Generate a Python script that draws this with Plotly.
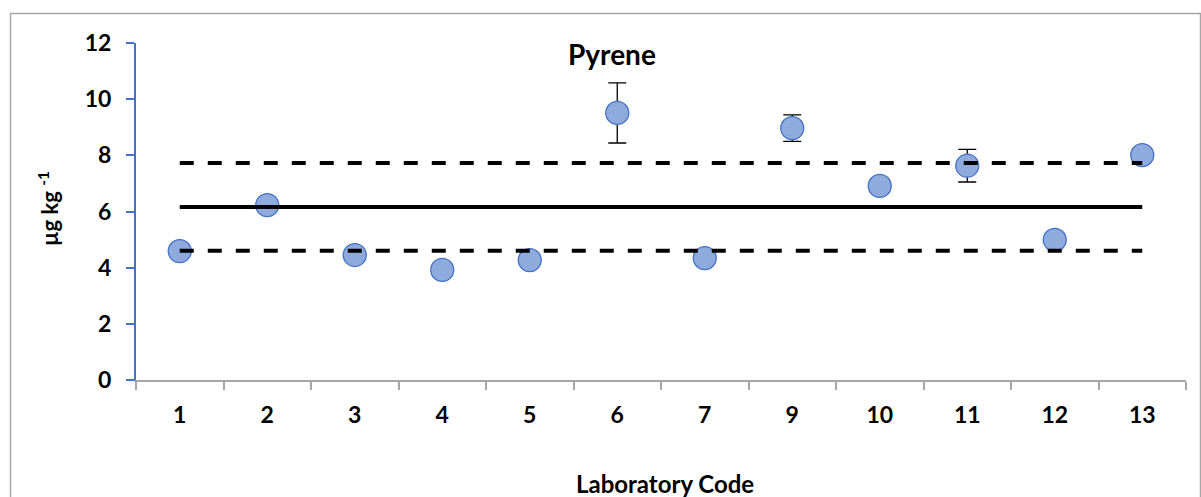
import plotly.graph_objects as go

lab_codes = ["1", "2", "3", "4", "5", "6", "7", "9", "10", "11", "12", "13"]
values = [4.59, 6.23, 4.45, 3.92, 4.27, 9.51, 4.34, 8.97, 6.91, 7.63, 4.99, 8.01]
errors = [0, 0, 0, 0, 0, 1.07, 0, 0.47, 0, 0.58, 0, 0]
assigned_value = 6.16
upper_limit = 7.73
lower_limit = 4.60

FONT = "Lato"
W, H = 1201, 497
L, R, T, B = 136, 15, 43, 117
pw, ph = W - L - R, H - T - B

fig = go.Figure()

fig.add_trace(go.Scatter(
    x=lab_codes, y=values, mode="markers",
    marker=dict(size=23, color="#8FAADC", line=dict(color="#4472C4", width=1.3)),
    error_y=dict(type="data", array=errors, visible=True, color="black",
                 thickness=1.3, width=9),
    showlegend=False,
))

ends = [lab_codes[0], lab_codes[-1]]
fig.add_trace(go.Scatter(x=ends, y=[assigned_value] * 2, mode="lines",
                         line=dict(color="black", width=4), showlegend=False))
for lim in (upper_limit, lower_limit):
    fig.add_trace(go.Scatter(x=ends, y=[lim] * 2, mode="lines",
                             line=dict(color="black", width=4, dash="14px,14px"),
                             showlegend=False))

def px_x(x):
    return (x - L) / pw

def px_y(y):
    return (H - B - y) / ph

tickfont = dict(size=23, family=FONT, color="black", weight="bold")

fig.update_layout(
    width=W, height=H,
    margin=dict(l=L, r=R, t=T, b=B),
    paper_bgcolor="white", plot_bgcolor="white",
    font=dict(family=FONT, color="black"),
    xaxis=dict(type="category", categoryorder="array", categoryarray=lab_codes,
               range=[-0.5, len(lab_codes) - 0.5],
               showgrid=False, showline=True, linecolor="#A6A6A6", linewidth=2,
               ticks="outside", tickson="boundaries", ticklen=8, tickcolor="#A6A6A6",
               tickwidth=1.5, tickfont=tickfont,
               ticklabelstandoff=13, zeroline=False, fixedrange=True),
    yaxis=dict(range=[0, 12], dtick=2, showgrid=False, showline=True,
               linecolor="#4472C4", linewidth=2, ticks="outside", ticklen=8,
               tickcolor="#4472C4", tickwidth=1.5, zeroline=False,
               tickfont=tickfont, ticklabelstandoff=10, fixedrange=True),
    shapes=[dict(type="rect", xref="paper", yref="paper",
                 x0=px_x(10.5), x1=px_x(1200.5), y0=px_y(13.5), y1=px_y(510),
                 line=dict(color="#A6A6A6", width=1.5), fillcolor="rgba(0,0,0,0)",
                 layer="below")],
    annotations=[
        dict(text="<b>Pyrene</b>", xref="paper", yref="paper",
             x=px_x(612), y=px_y(54), xanchor="center", yanchor="middle",
             showarrow=False, font=dict(size=28, family=FONT, color="black")),
        dict(text="<b>Laboratory Code</b>", xref="paper", yref="paper",
             x=px_x(665), y=px_y(483), xanchor="center", yanchor="middle",
             showarrow=False, font=dict(size=24, family=FONT, color="black")),
        dict(text="<b>µg kg <sup>-1</sup></b>", xref="paper", yref="paper",
             x=px_x(48), y=px_y(209), xanchor="center", yanchor="middle",
             showarrow=False, textangle=-90,
             font=dict(size=22, family=FONT, color="black")),
    ],
)

fig.write_html("out.html")
